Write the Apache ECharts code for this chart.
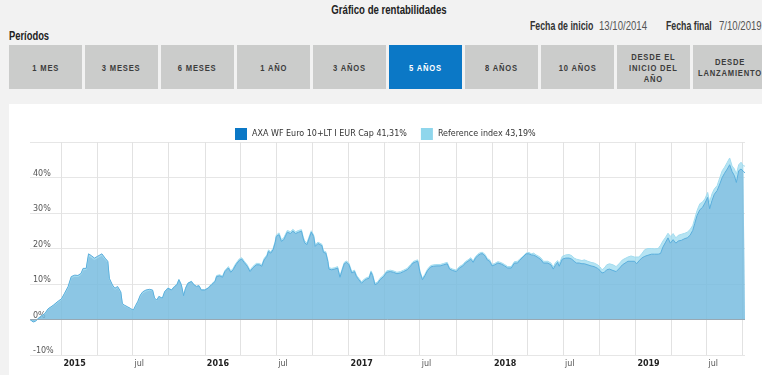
<!DOCTYPE html>
<html>
<head>
<meta charset="utf-8">
<script src="https://cdn.jsdelivr.net/npm/echarts@6/dist/echarts.min.js"></script>
<style>
html,body{margin:0;padding:0;width:762px;height:375px;overflow:hidden;background:#f2f2f2;
  font-family:"Liberation Sans",Arial,sans-serif;color:#333;}
.sq{position:absolute;white-space:nowrap;transform:scaleX(0.8);transform-origin:0 50%;}
#title{position:absolute;top:3px;left:0;width:778px;text-align:center;font-weight:bold;font-size:12px;color:#222;transform:scaleX(0.8);transform-origin:389px 50%;}
.lbl{font-weight:bold;font-size:12px;color:#333;top:19px;transform:scaleX(0.73);}
.val{font-size:12px;color:#555;top:19px;transform:scaleX(0.8);}
#periodos{left:9px;top:29px;font-weight:bold;font-size:12px;color:#222;transform:scaleX(0.78);}
#tabs{position:absolute;top:45px;left:9px;white-space:nowrap;}
.tab{position:absolute;top:0;width:73px;height:44px;background:#cbcccb;display:flex;align-items:center;justify-content:center;
  text-align:center;font-size:9.5px;letter-spacing:1px;line-height:11px;color:#3c3c3c;font-weight:bold;}
.tab span{display:inline-block;transform:scaleX(0.8);white-space:nowrap;}
.tab.on{background:#0b78c6;color:#fff;}
#panel{position:absolute;left:9px;top:104px;width:800px;height:300px;background:#fff;}
#chart{position:absolute;left:0;top:0;width:762px;height:375px;}
</style>
</head>
<body>
<div id="title"></div>
<div id="l1" class="sq lbl" style="left:530px"></div>
<div id="v1" class="sq val" style="left:599px"></div>
<div id="l2" class="sq lbl" style="left:666px"></div>
<div id="v2" class="sq val" style="left:719px"></div>
<div id="periodos" class="sq"></div>
<div id="tabs"></div>
<div id="panel"></div>
<div id="chart"></div>
<script>
// ---- texts ----
const titleText = 'Gráfico de rentabilidades';
const startLabel = 'Fecha de inicio';
const startDate = '13/10/2014';
const endLabel = 'Fecha final';
const endDate = '7/10/2019';
const periodsLabel = 'Períodos';
const tabLabels = ['1 MES', '3 MESES', '6 MESES', '1 AÑO', '3 AÑOS', '5 AÑOS', '8 AÑOS', '10 AÑOS', 'DESDE EL<br>INICIO DEL<br>AÑO', 'DESDE<br>LANZAMIENTO'];
const activeTab = 5;
const seriesNames = ['AXA WF Euro 10+LT I EUR Cap 41,31%', 'Reference index 43,19%'];
const halfYearLabel = 'jul';
const yTicks = [-10, 0, 10, 20, 30, 40, 50];
const xMin = '2014-10-13';
const xMax = '2019-10-07';

// ---- data (cumulative return, %) ----
const dates = [
'2014-10-13','2014-10-21','2014-10-27','2014-11-03','2014-11-11','2014-11-20','2014-11-28','2014-12-11','2014-12-24',
'2015-01-01','2015-01-09','2015-01-18','2015-01-26','2015-02-04','2015-02-12','2015-02-20','2015-02-25','2015-03-05','2015-03-11',
'2015-03-18','2015-03-26','2015-04-03','2015-04-14','2015-04-22','2015-04-29','2015-05-03','2015-05-11','2015-05-17','2015-05-24',
'2015-05-28','2015-06-01','2015-06-05','2015-06-11','2015-06-18','2015-06-26','2015-07-03','2015-07-09','2015-07-14','2015-07-21',
'2015-07-27','2015-08-04','2015-08-13','2015-08-21','2015-08-26','2015-09-01','2015-09-06','2015-09-15','2015-09-21','2015-09-29',
'2015-10-08','2015-10-16','2015-10-22','2015-10-27','2015-11-02','2015-11-08','2015-11-13','2015-11-19','2015-11-28','2015-12-04',
'2015-12-11','2015-12-17','2015-12-23',
'2016-01-01','2016-01-09','2016-01-18','2016-01-27','2016-01-31','2016-02-08','2016-02-15','2016-02-21','2016-03-01','2016-03-07',
'2016-03-13','2016-03-20','2016-03-29','2016-04-04','2016-04-10','2016-04-18','2016-04-25','2016-05-02','2016-05-11','2016-05-19',
'2016-05-25','2016-05-31','2016-06-07','2016-06-11','2016-06-17','2016-06-23','2016-06-28','2016-07-01','2016-07-08','2016-07-14',
'2016-07-20','2016-07-29','2016-08-06','2016-08-12','2016-08-19','2016-08-27','2016-09-03','2016-09-07','2016-09-11','2016-09-17',
'2016-09-23','2016-09-28','2016-10-04','2016-10-08','2016-10-15','2016-10-20','2016-10-25','2016-10-29','2016-11-04','2016-11-09',
'2016-11-12','2016-11-19','2016-11-27','2016-12-04','2016-12-10','2016-12-16','2016-12-21','2016-12-27',
'2017-01-02','2017-01-09','2017-01-16','2017-01-21','2017-01-27','2017-02-03','2017-02-10','2017-02-16','2017-02-22','2017-02-27',
'2017-03-03','2017-03-09','2017-03-16','2017-03-22','2017-03-31','2017-04-08','2017-04-17','2017-04-25','2017-05-04','2017-05-13',
'2017-05-21','2017-05-30','2017-06-08','2017-06-14','2017-06-20','2017-06-26','2017-07-02','2017-07-08','2017-07-14','2017-07-21',
'2017-07-29','2017-08-05','2017-08-14','2017-08-22','2017-08-31','2017-09-09','2017-09-15','2017-09-23','2017-10-02','2017-10-10',
'2017-10-19','2017-10-25','2017-11-01','2017-11-08','2017-11-14','2017-11-20','2017-11-26','2017-12-03','2017-12-09','2017-12-15',
'2017-12-20','2017-12-26',
'2018-01-01','2018-01-08','2018-01-16','2018-01-25','2018-02-02','2018-02-10','2018-02-19','2018-02-27','2018-03-07','2018-03-12',
'2018-03-21','2018-03-29','2018-04-05','2018-04-11','2018-04-17','2018-04-23','2018-04-30','2018-05-06','2018-05-12','2018-05-17',
'2018-05-23','2018-05-27','2018-05-31','2018-06-06','2018-06-11','2018-06-17','2018-06-21','2018-06-26','2018-06-29','2018-07-08',
'2018-07-16','2018-07-23','2018-07-29','2018-08-04','2018-08-11','2018-08-18','2018-08-24','2018-09-02','2018-09-10','2018-09-18',
'2018-09-27','2018-10-03','2018-10-08','2018-10-14','2018-10-20','2018-10-27','2018-11-05','2018-11-13','2018-11-22','2018-11-29',
'2018-12-04','2018-12-13','2018-12-21','2018-12-30',
'2019-01-04','2019-01-10','2019-01-17','2019-01-25','2019-02-02','2019-02-11','2019-02-19','2019-02-28','2019-03-06','2019-03-12',
'2019-03-19','2019-03-25','2019-03-31','2019-04-07','2019-04-14','2019-04-20','2019-04-28','2019-05-07','2019-05-13','2019-05-20',
'2019-05-27','2019-06-01','2019-06-07','2019-06-14','2019-06-21','2019-06-27','2019-07-04','2019-07-09','2019-07-15','2019-07-21',
'2019-07-28','2019-08-04','2019-08-10','2019-08-16','2019-08-23','2019-08-29','2019-09-04','2019-09-10','2019-09-15','2019-09-21',
'2019-09-27','2019-10-03','2019-10-07'
];
const fundValues = [
0.0,-0.7,-0.5,0.3,1.0,1.7,3.0,4.0,5.2,
5.8,7.4,9.3,12.1,12.5,12.4,13.0,14.4,14.4,18.5,
18.0,17.3,17.8,18.5,17.3,16.4,11.6,9.7,8.8,9.3,
9.5,7.8,4.5,4.0,3.6,3.1,2.6,4.0,5.0,6.9,
7.8,8.3,8.5,8.3,6.0,5.5,6.5,6.0,7.9,8.8,
8.3,9.3,9.8,11.2,9.8,6.7,8.8,10.2,10.7,9.8,
9.3,9.5,8.3,
8.3,8.8,9.8,10.7,12.1,12.3,11.9,13.5,14.5,13.3,
14.0,15.4,16.7,17.0,16.1,15.0,13.5,14.5,15.4,15.4,
15.0,16.8,17.8,19.2,18.7,19.7,21.6,23.4,23.9,22.0,
22.5,24.6,24.2,24.9,24.2,24.6,24.9,23.0,21.6,21.1,
23.0,24.6,23.4,20.6,21.4,21.7,20.8,18.9,18.7,16.4,
14.2,14.0,14.2,14.5,11.9,14.0,15.7,16.1,
15.4,13.1,13.5,12.1,11.2,10.2,11.0,11.4,11.6,13.3,
12.4,9.8,10.2,11.2,12.1,13.3,13.5,13.3,12.9,13.1,
13.5,14.0,15.1,15.9,16.2,16.4,13.1,11.2,12.3,13.8,
14.8,15.0,15.1,15.1,15.4,15.7,14.2,13.8,13.5,14.5,
15.1,15.9,16.4,17.0,16.1,17.3,18.0,18.5,18.5,17.8,
16.8,16.4,
15.1,15.4,15.9,15.6,15.1,14.5,14.5,15.9,15.9,16.6,
17.6,18.5,18.5,18.2,18.1,17.8,17.3,16.8,15.9,15.4,
15.9,16.2,15.4,14.2,15.2,16.1,15.0,15.2,17.0,17.3,
17.3,17.0,16.4,15.9,15.9,15.7,15.7,15.4,15.1,14.9,
14.4,13.8,13.1,13.3,14.0,14.2,13.8,13.5,14.5,15.4,
15.9,16.4,16.4,16.4,
15.7,16.5,17.3,17.8,18.1,18.4,18.4,18.4,18.6,20.4,
21.8,23.0,21.5,22.5,21.5,22.1,22.3,22.8,23.0,23.7,
25.1,27.0,29.3,30.9,31.6,32.8,34.4,31.2,33.5,35.3,
36.3,38.2,40.0,41.2,42.4,43.6,41.7,40.5,38.6,41.9,
42.4,41.7,41.31
];
const refValues = [
0.0,-0.6,-0.4,0.4,1.0,1.6,2.9,3.9,5.0,
5.6,7.2,9.0,11.8,12.2,12.1,12.7,14.0,14.1,18.0,
17.5,16.9,17.4,18.1,17.0,16.1,11.4,9.5,8.5,9.0,
9.3,7.6,4.4,3.8,3.5,3.0,2.5,3.8,4.8,6.6,
7.5,8.0,8.3,8.2,5.9,5.4,6.4,6.0,7.9,8.9,
8.4,9.4,9.9,11.3,9.9,6.8,8.9,10.3,10.8,9.9,
9.4,9.6,8.4,
8.4,8.9,10.0,10.9,12.4,12.6,12.2,13.8,14.9,13.7,
14.4,15.8,17.1,17.4,16.5,15.4,13.9,14.9,15.8,15.8,
15.4,17.2,18.2,19.6,19.1,20.1,22.0,23.8,24.4,22.5,
23.0,25.1,24.7,25.4,24.7,25.1,25.3,23.5,22.1,21.6,
23.5,25.0,23.8,21.1,21.8,22.1,21.2,19.3,19.1,16.8,
14.6,14.4,14.6,14.9,12.3,14.4,16.1,16.5,
15.8,13.5,13.9,12.5,11.6,10.6,11.4,11.8,12.0,13.7,
12.8,10.2,10.6,11.6,12.5,13.7,13.9,13.7,13.3,13.5,
13.9,14.4,15.5,16.3,16.6,16.8,13.5,11.6,12.7,14.2,
15.2,15.4,15.5,15.5,15.8,16.1,14.6,14.2,13.9,14.9,
15.5,16.3,16.8,17.4,16.5,17.7,18.4,18.9,18.9,18.2,
17.2,16.8,
15.5,15.8,16.3,16.0,15.5,14.9,14.9,16.3,16.4,17.0,
17.8,18.7,18.9,18.5,18.7,18.2,17.8,17.3,16.4,15.9,
16.4,16.6,15.9,14.8,15.9,16.6,15.7,15.9,17.8,18.2,
18.3,18.0,17.3,17.0,16.8,16.6,16.8,16.4,16.1,15.9,
15.4,14.8,14.0,14.5,15.4,15.7,15.4,14.9,15.9,16.8,
17.3,17.6,17.9,17.6,
17.1,17.6,18.5,19.7,20.0,20.0,19.9,20.0,20.9,22.1,
23.2,24.3,23.4,24.2,23.0,23.7,24.0,24.3,24.6,25.3,
26.5,28.4,30.7,32.6,33.1,34.0,35.8,33.1,35.4,36.8,
37.7,40.0,41.9,42.9,44.3,45.5,43.3,42.4,41.0,43.6,
44.3,43.3,43.19
];

// ---- header (HTML) ----
document.getElementById('title').textContent = titleText;
document.getElementById('l1').textContent = startLabel;
document.getElementById('v1').textContent = startDate;
document.getElementById('l2').textContent = endLabel;
document.getElementById('v2').textContent = endDate;
document.getElementById('periodos').textContent = periodsLabel;
const tabsEl = document.getElementById('tabs');
tabLabels.forEach(function (t, i) {
  const d = document.createElement('div');
  d.className = 'tab' + (i === activeTab ? ' on' : '');
  d.style.left = (i * 76) + 'px';
  d.innerHTML = '<span>' + t + '</span>';
  tabsEl.appendChild(d);
});

// ---- chart ----
const fundData = dates.map(function (d, i) { return [d, fundValues[i]]; });
const refData = dates.map(function (d, i) { return [d, refValues[i]]; });
const DAY = 24 * 3600 * 1000;
const chart = echarts.init(document.getElementById('chart'), null, { renderer: 'canvas' });
chart.setOption({
  animation: false,
  backgroundColor: 'transparent',
  textStyle: { fontFamily: 'DejaVu Sans' },
  legend: {
    left: 235, top: 128, padding: 0,
    itemWidth: 12, itemHeight: 12, itemGap: 14,
    icon: 'rect',
    textStyle: { fontSize: 8, color: '#333', fontFamily: 'DejaVu Sans' },
    data: [
      { name: seriesNames[0], itemStyle: { color: '#0b78c6' } },
      { name: seriesNames[1], itemStyle: { color: '#8fd6ec' } }
    ]
  },
  grid: { left: 30, right: 17, top: 142, bottom: 20, containLabel: false },
  xAxis: {
    type: 'time',
    min: xMin, max: xMax,
    splitNumber: 10,
    minInterval: 180 * DAY, maxInterval: 180 * DAY,
    axisLine: { show: false },
    axisTick: { show: false },
    splitLine: { show: true, showMinLine: false, showMaxLine: false, lineStyle: { color: '#e2e2e2', width: 1 } },
    axisLabel: {
      showMinLabel: false, showMaxLabel: false,
      align: 'left', margin: 5,
      color: '#555', fontSize: 8, fontFamily: 'DejaVu Sans',
      padding: [0, 0, 0, 2],
      formatter: function (v) {
        const d = new Date(v);
        if (d.getMonth() === 0 && d.getDate() === 1) return '{y|' + d.getFullYear() + '}';
        if (d.getMonth() === 6 && d.getDate() === 1) return halfYearLabel;
        return '';
      },
      rich: { y: { fontWeight: 'bold', color: '#222', fontSize: 8, fontFamily: 'DejaVu Sans' } }
    }
  },
  yAxis: {
    type: 'value',
    min: yTicks[0], max: yTicks[yTicks.length - 1], interval: 10,
    axisLine: { show: false },
    axisTick: { show: false },
    splitLine: { show: true, lineStyle: { color: '#e6e6e6', width: 1 } },
    axisLabel: {
      inside: true, margin: 3,
      verticalAlign: 'bottom',
      color: '#555', fontSize: 8, fontFamily: 'DejaVu Sans',
      formatter: function (v) { return v === yTicks[yTicks.length - 1] ? '' : v + '%'; }
    }
  },
  series: [
    {
      name: seriesNames[1], type: 'line', data: refData, clip: false,
      showSymbol: false, symbol: 'none',
      itemStyle: { color: '#8fd6ec' },
      lineStyle: { color: '#a3dcef', width: 1 },
      areaStyle: { color: 'rgba(143,214,236,0.65)', opacity: 1 }
    },
    {
      name: seriesNames[0], type: 'line', data: fundData, clip: false,
      showSymbol: false, symbol: 'none',
      itemStyle: { color: '#0b78c6' },
      lineStyle: { color: '#5aaedc', width: 1 },
      areaStyle: { color: 'rgba(100,170,213,0.5)', opacity: 1 },
      markLine: {
        silent: true, symbol: 'none', label: { show: false },
        lineStyle: { color: '#98a8b3', type: 'solid', width: 1 },
        data: [{ yAxis: 0 }]
      }
    }
  ]
});
</script>
</body>
</html>
